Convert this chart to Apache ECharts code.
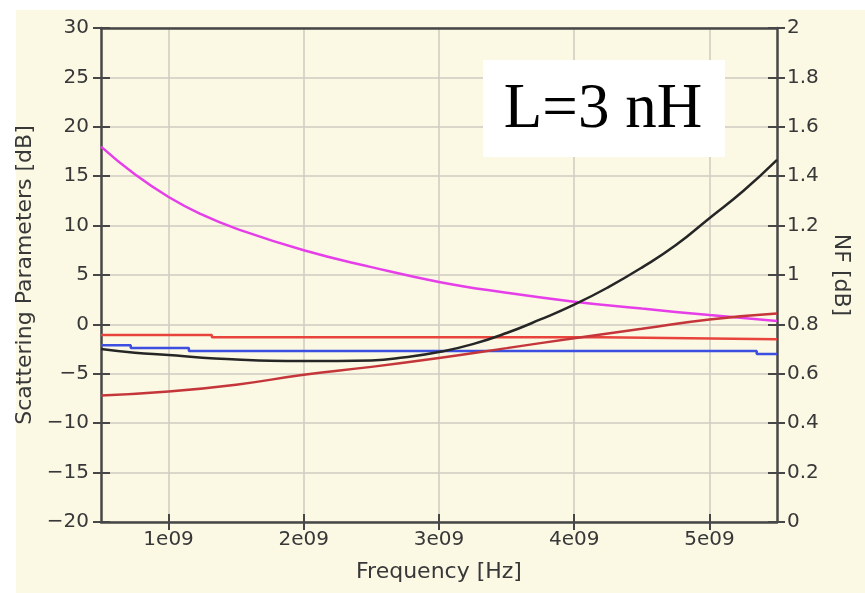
<!DOCTYPE html>
<html>
<head>
<meta charset="utf-8">
<script src="https://cdn.jsdelivr.net/npm/echarts@6/dist/echarts.min.js"></script>
<style>html,body{margin:0;padding:0;background:#fff}#c{width:865px;height:593px}</style>
</head>
<body>
<div id="c"></div>
<script>
// Frequency sample points (Hz)
var smoothFreq = [0.5e9, 0.75e9, 1e9, 1.25e9, 1.5e9, 2e9, 2.5e9, 3e9, 3.5e9, 4e9, 4.5e9, 5e9, 5.5e9];
var magentaS = [18.0, 15.2, 12.9, 11.1, 9.7, 7.5, 5.8, 4.3, 3.2, 2.3, 1.6, 0.95, 0.35];

var nfFreq = [0.5e9, 0.75e9, 1e9, 1.25e9, 1.5e9, 1.75e9, 2e9, 2.25e9, 2.5e9, 2.75e9, 3e9, 3.25e9, 3.5e9, 3.75e9, 4e9, 4.25e9, 4.5e9, 4.75e9, 5e9, 5.25e9, 5.5e9];
var nfValues = [0.70, 0.685, 0.676, 0.665, 0.658, 0.653, 0.652, 0.652, 0.654, 0.667, 0.688, 0.72, 0.765, 0.82, 0.88, 0.95, 1.03, 1.12, 1.23, 1.34, 1.466];

var darkRedFreq = [0.5e9, 1e9, 1.5e9, 2e9, 2.5e9, 3e9, 3.5e9, 4e9, 4.5e9, 5e9, 5.5e9];
var darkRedS = [-7.2, -6.8, -6.1, -5.1, -4.3, -3.4, -2.4, -1.4, -0.45, 0.5, 1.1];

var redFreq = [0.5e9, 1.32e9, 4.2e9, 5.5e9];
var redS = [-1.07, -1.3, -1.5, -1.5];

var blueFreq = [0.5e9, 0.72e9, 1.15e9, 5.35e9, 5.5e9];
var blueS = [-2.1, -2.4, -2.7, -3.0, -3.0];

var xTicks = [1e9, 2e9, 3e9, 4e9, 5e9];

function zip(a, b) { return a.map(function (v, i) { return [v, b[i]]; }); }

var axisColor = '#474747';
var textColor = '#383838';
var gridColor = '#cfcdc2';
var fontFam = 'DejaVu Sans';

var chart = echarts.init(document.getElementById('c'));
chart.setOption({
  animation: false,
  backgroundColor: '#fbf8e4',
  grid: [
    {left: 101, right: 88, top: 28, bottom: 71},
    {left: 101, right: 88, top: 28, bottom: 71}
  ],
  xAxis: [
    {
      type: 'value', gridIndex: 0, position: 'bottom', min: 0.5e9, max: 5.5e9,
      name: 'Frequency [Hz]', nameLocation: 'middle', nameGap: 39,
      nameTextStyle: {color: textColor, fontFamily: fontFam, fontSize: 22},
      axisLine: {onZero: false, lineStyle: {color: axisColor, width: 2.5}},
      axisTick: {length: 8, customValues: xTicks, lineStyle: {color: axisColor, width: 2}},
      axisLabel: {margin: 8, customValues: xTicks, color: textColor, fontFamily: fontFam, fontSize: 20,
        formatter: function (v) { return Math.round(v / 1e9) + 'e09'; }},
      splitLine: {show: true, lineStyle: {color: gridColor, width: 1.5}}
    },
    {
      type: 'value', gridIndex: 1, position: 'bottom', min: 0.5e9, max: 5.5e9,
      axisLine: {show: false, onZero: false},
      axisTick: {inside: true, length: 8, customValues: xTicks, lineStyle: {color: axisColor, width: 2}},
      axisLabel: {show: false, customValues: xTicks},
      splitLine: {show: false}
    },
    {
      type: 'value', gridIndex: 1, position: 'top', min: 0.5e9, max: 5.5e9,
      axisLine: {show: true, onZero: false, lineStyle: {color: axisColor, width: 2.5}},
      axisTick: {show: false},
      axisLabel: {show: false},
      splitLine: {show: false}
    }
  ],
  yAxis: [
    {
      type: 'value', gridIndex: 0, position: 'left', min: -20, max: 30, interval: 5,
      name: 'Scattering Parameters [dB]', nameLocation: 'middle', nameGap: 57,
      nameTextStyle: {color: textColor, fontFamily: fontFam, fontSize: 22},
      axisLine: {show: true, onZero: false, lineStyle: {color: axisColor, width: 2.5}},
      axisTick: {show: true, length: 8, lineStyle: {color: axisColor, width: 2}},
      axisLabel: {margin: 12, color: textColor, fontFamily: fontFam, fontSize: 20,
        formatter: function (v) { return v < 0 ? '\u2212' + Math.abs(v) : String(v); }},
      splitLine: {show: true, lineStyle: {color: gridColor, width: 1.5}}
    },
    {
      type: 'value', gridIndex: 0, position: 'right', min: 0, max: 2, interval: 0.2,
      name: 'NF [dB]', nameLocation: 'middle', nameGap: 52, nameRotate: -90,
      nameTextStyle: {color: textColor, fontFamily: fontFam, fontSize: 22},
      axisLine: {show: true, onZero: false, lineStyle: {color: axisColor, width: 2.5}},
      axisTick: {show: true, length: 8, lineStyle: {color: axisColor, width: 2}},
      axisLabel: {margin: 10, color: textColor, fontFamily: fontFam, fontSize: 20},
      splitLine: {show: false}
    },
    {
      type: 'value', gridIndex: 1, position: 'left', min: -20, max: 30, interval: 5,
      axisLine: {show: false, onZero: false},
      axisTick: {show: true, inside: true, length: 9, lineStyle: {color: axisColor, width: 2}},
      axisLabel: {show: false}, splitLine: {show: false}
    },
    {
      type: 'value', gridIndex: 1, position: 'right', min: 0, max: 2, interval: 0.2,
      axisLine: {show: false, onZero: false},
      axisTick: {show: true, inside: true, length: 9, lineStyle: {color: axisColor, width: 2}},
      axisLabel: {show: false}, splitLine: {show: false}
    }
  ],
  series: [
    {type: 'line', name: 'S11', xAxisIndex: 0, yAxisIndex: 0, data: zip(smoothFreq, magentaS), smooth: true,
      showSymbol: false, lineStyle: {color: '#e63ee8', width: 2.5}},
    {type: 'line', name: 'S21', xAxisIndex: 0, yAxisIndex: 0, data: zip(redFreq, redS), step: 'end',
      showSymbol: false, lineStyle: {color: '#e8443c', width: 2.5}},
    {type: 'line', name: 'S12', xAxisIndex: 0, yAxisIndex: 0, data: zip(blueFreq, blueS), step: 'end',
      showSymbol: false, lineStyle: {color: '#3d4fe0', width: 2.5}},
    {type: 'line', name: 'S22', xAxisIndex: 0, yAxisIndex: 0, data: zip(darkRedFreq, darkRedS), smooth: true,
      showSymbol: false, lineStyle: {color: '#c4363a', width: 2.5}},
    {type: 'line', name: 'NF', xAxisIndex: 0, yAxisIndex: 1, data: zip(nfFreq, nfValues), smooth: true,
      showSymbol: false, lineStyle: {color: '#262626', width: 2.5}}
  ],
  graphic: [
    {type: 'rect', shape: {x: 0, y: 0, width: 865, height: 10}, style: {fill: '#ffffff'}, silent: true},
    {type: 'rect', shape: {x: 0, y: 0, width: 16, height: 593}, style: {fill: '#ffffff'}, silent: true},
    {type: 'rect', shape: {x: 483, y: 60, width: 242, height: 97}, style: {fill: '#ffffff'}, silent: true, z: 100},
    {type: 'text', x: 603, y: 110, z: 101, silent: true,
      style: {text: 'L=3 nH', fill: '#000000', font: '63px "Liberation Serif", "Times New Roman", serif',
        align: 'center', verticalAlign: 'middle', textAlign: 'center', textVerticalAlign: 'middle'}}
  ]
});
</script>
</body>
</html>
